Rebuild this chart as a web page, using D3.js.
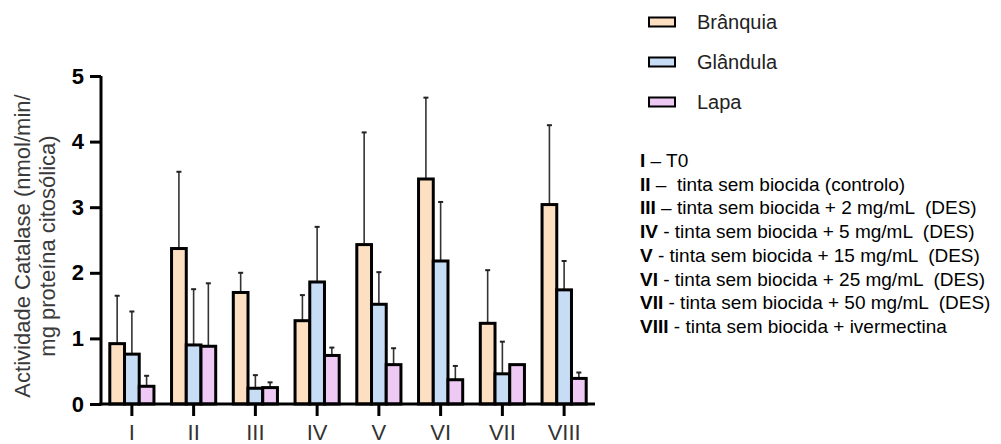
<!DOCTYPE html>
<html>
<head>
<meta charset="utf-8">
<script src="https://cdn.jsdelivr.net/npm/d3@7"></script>
<style>
  html, body { margin: 0; padding: 0; background: #fff; }
  svg { display: block; font-family: "Liberation Sans", Arial, sans-serif; }
</style>
</head>
<body>
<svg id="chart" width="1001" height="444"></svg>
<script>
// Groups (treatments) and tissues
const categories = ["I", "II", "III", "IV", "V", "VI", "VII", "VIII"];
const seriesNames = ["Brânquia", "Glândula", "Lapa"];
const seriesColors = ["#fde0c2", "#c7ddf6", "#edc9f3"];

// Mean catalase activity per group
const branquia = [0.92, 2.37, 1.70, 1.27, 2.43, 3.43, 1.23, 3.04];
const glandula = [0.76, 0.90, 0.24, 1.86, 1.52, 2.18, 0.46, 1.74];
const lapa     = [0.27, 0.88, 0.25, 0.74, 0.60, 0.37, 0.60, 0.39];

// Upper end of the error bars (mean + SD)
const branquiaErr = [1.65, 3.54, 2.00, 1.66, 4.14, 4.67, 2.04, 4.25];
const glandulaErr = [1.41, 1.75, 0.44, 2.70, 2.01, 3.08, 0.95, 2.18];
const lapaErr     = [0.43, 1.84, 0.33, 0.86, 0.85, 0.58, null, 0.48];

const yTicks = [0, 1, 2, 3, 4, 5];

const treatmentKey = [
  ["I", " – T0"],
  ["II", " –  tinta sem biocida (controlo)"],
  ["III", " – tinta sem biocida + 2 mg/mL  (DES)"],
  ["IV", " - tinta sem biocida + 5 mg/mL  (DES)"],
  ["V", " - tinta sem biocida + 15 mg/mL  (DES)"],
  ["VI", " - tinta sem biocida + 25 mg/mL  (DES)"],
  ["VII", " - tinta sem biocida + 50 mg/mL  (DES)"],
  ["VIII", " - tinta sem biocida + ivermectina"]
];

const means = [branquia, glandula, lapa];
const errs = [branquiaErr, glandulaErr, lapaErr];

const svg = d3.select("#chart");

const plot = { left: 101, right: 595, top: 76, bottom: 404 };

const x = d3.scaleBand()
  .domain(categories)
  .range([plot.left, plot.right])
  .paddingInner(0.285)
  .paddingOuter(0.1425);

const xs = d3.scaleBand()
  .domain(seriesNames)
  .range([0, x.bandwidth()]);

const y = d3.scaleLinear()
  .domain([0, 5])
  .range([plot.bottom, plot.top]);

// Bars
const rows = [];
categories.forEach((c, i) => {
  seriesNames.forEach((s, j) => {
    rows.push({ cat: c, series: s, j, value: means[j][i], err: errs[j][i] });
  });
});

// Error bars (upper only), drawn beneath the bar outlines
const eb = svg.append("g").attr("class", "errors");
rows.filter(d => d.err != null).forEach(d => {
  const cx = x(d.cat) + xs(d.series) + xs.bandwidth() / 2;
  eb.append("line")
    .attr("x1", cx).attr("x2", cx)
    .attr("y1", y(d.value)).attr("y2", y(d.err))
    .attr("stroke", "#333").attr("stroke-width", 1.6);
  eb.append("line")
    .attr("x1", cx - 2.5).attr("x2", cx + 2.5)
    .attr("y1", y(d.err)).attr("y2", y(d.err))
    .attr("stroke", "#222").attr("stroke-width", 2);
});

svg.append("g").attr("class", "bars")
  .selectAll("rect")
  .data(rows)
  .join("rect")
  .attr("x", d => x(d.cat) + xs(d.series))
  .attr("y", d => y(d.value))
  .attr("width", xs.bandwidth())
  .attr("height", d => y(0) - y(d.value))
  .attr("fill", d => seriesColors[d.j])
  .attr("stroke", "#000")
  .attr("stroke-width", 3);

// Y axis
const yAxis = svg.append("g")
  .attr("transform", `translate(${plot.left},0)`)
  .call(d3.axisLeft(y).tickValues(yTicks).tickFormat(d3.format("d")).tickSize(11).tickPadding(6).tickSizeOuter(0));
yAxis.select(".domain").attr("stroke", "#000").attr("stroke-width", 3)
  .attr("d", `M0,${plot.bottom + 1.5}V${plot.top}`);
yAxis.selectAll(".tick line").attr("stroke", "#000").attr("stroke-width", 3);
yAxis.selectAll(".tick text")
  .attr("font-size", 22).attr("font-weight", "bold").attr("fill", "#000")
  .attr("font-family", "Liberation Sans, Arial, sans-serif");

// X axis
const xAxis = svg.append("g")
  .attr("transform", `translate(0,${plot.bottom})`)
  .call(d3.axisBottom(x).tickSize(12).tickPadding(8).tickSizeOuter(0));
xAxis.select(".domain").attr("stroke", "#000").attr("stroke-width", 3)
  .attr("d", `M${plot.left - 1.5},0H${plot.right}`);
xAxis.selectAll(".tick line").attr("stroke", "#000").attr("stroke-width", 3);
xAxis.selectAll(".tick text")
  .attr("font-size", 22).attr("fill", "#333")
  .attr("font-family", "Liberation Sans, Arial, sans-serif");

// Y axis title (two lines)
const yTitle = svg.append("text")
  .attr("transform", "translate(30,246) rotate(-90)")
  .attr("text-anchor", "middle")
  .attr("font-size", 22)
  .attr("fill", "#3a3a3a");
yTitle.append("tspan").attr("x", 0).attr("y", 0).text("Actividade Catalase (nmol/min/");
yTitle.append("tspan").attr("x", 0).attr("y", 25).text("mg proteína citosólica)");

// Legend
const legend = svg.append("g").attr("class", "legend");
seriesNames.forEach((s, j) => {
  const cy = 22 + j * 40;
  legend.append("rect")
    .attr("x", 649).attr("y", cy - 4.5)
    .attr("width", 26).attr("height", 9)
    .attr("fill", seriesColors[j])
    .attr("stroke", "#000").attr("stroke-width", 2);
  legend.append("text")
    .attr("x", 697).attr("y", cy + 7)
    .attr("font-size", 20).attr("fill", "#222")
    .text(s);
});

// Treatment key
const key = svg.append("g").attr("class", "key");
treatmentKey.forEach((k, i) => {
  const t = key.append("text")
    .attr("x", 640).attr("y", 167 + i * 23.7)
    .attr("font-size", 19).attr("fill", "#000")
    .style("white-space", "pre");
  t.append("tspan").attr("font-weight", "bold").text(k[0]);
  t.append("tspan").text(k[1]);
});
</script>
</body>
</html>
